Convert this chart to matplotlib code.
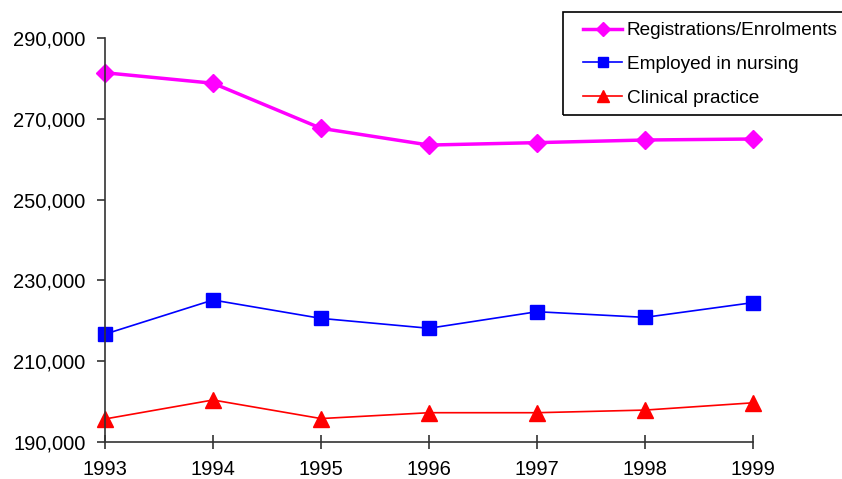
import matplotlib.pyplot as plt
from matplotlib.patches import Rectangle
from matplotlib.ticker import FuncFormatter

plt.rcParams['font.family'] = ['Liberation Sans', 'DejaVu Sans']

# 데이터
years = [1993, 1994, 1995, 1996, 1997, 1998, 1999]
registrations = [281400, 278800, 267650, 263500, 264100, 264750, 265000]
employed = [216700, 225150, 220600, 218150, 222250, 220850, 224500]
clinical = [195700, 200400, 195800, 197250, 197250, 197900, 199700]

fig = plt.figure(figsize=(8.42, 4.79), dpi=100)
ax = fig.add_axes([105 / 842, 1 - 442 / 479, (753 - 105) / 842, (442 - 38) / 479])

ax.plot(years, registrations, color='#ff00ff', lw=2.5, marker='D', ms=9,
        label='Registrations/Enrolments', clip_on=False)
ax.plot(years, employed, color='#0000ff', lw=1.2, marker='s', ms=10,
        label='Employed in nursing', clip_on=False)
ax.plot(years, clinical, color='#ff0000', lw=1.2, marker='^', ms=11,
        label='Clinical practice', clip_on=False)

ax.set_xlim(1993, 1999)
ax.set_ylim(190000, 290000)
ax.set_xticks(years)
ax.set_yticks(range(190000, 290001, 20000))
ax.yaxis.set_major_formatter(FuncFormatter(lambda v, p: f'{int(v):,}'))

for s in ['top', 'right']:
    ax.spines[s].set_visible(False)
for s in ['left', 'bottom']:
    ax.spines[s].set_color('#333333')
    ax.spines[s].set_linewidth(1.2)

ax.tick_params(axis='y', direction='out', length=6, width=1.2, color='#333333',
               labelsize=14.5, pad=8)
ax.tick_params(axis='x', direction='inout', length=10, width=1.2, color='#333333',
               labelsize=14.5, pad=8)

# 범례 (테두리는 따로 그림, 오른쪽은 그림 밖으로 나감)
fig.patches.append(Rectangle((563 / 842, 1 - 115 / 479), 300 / 842, 103 / 479,
                             transform=fig.transFigure, fill=False,
                             edgecolor='black', linewidth=1.2))
leg = fig.legend(loc='upper left', bbox_to_anchor=(583 / 842, 1 - 22 / 479),
                 fontsize=13.7, frameon=False, handlelength=2.05,
                 handletextpad=0.26, labelspacing=0.86, borderpad=0,
                 borderaxespad=0, markerscale=0.75)

fig.savefig('out.png', dpi=100)
